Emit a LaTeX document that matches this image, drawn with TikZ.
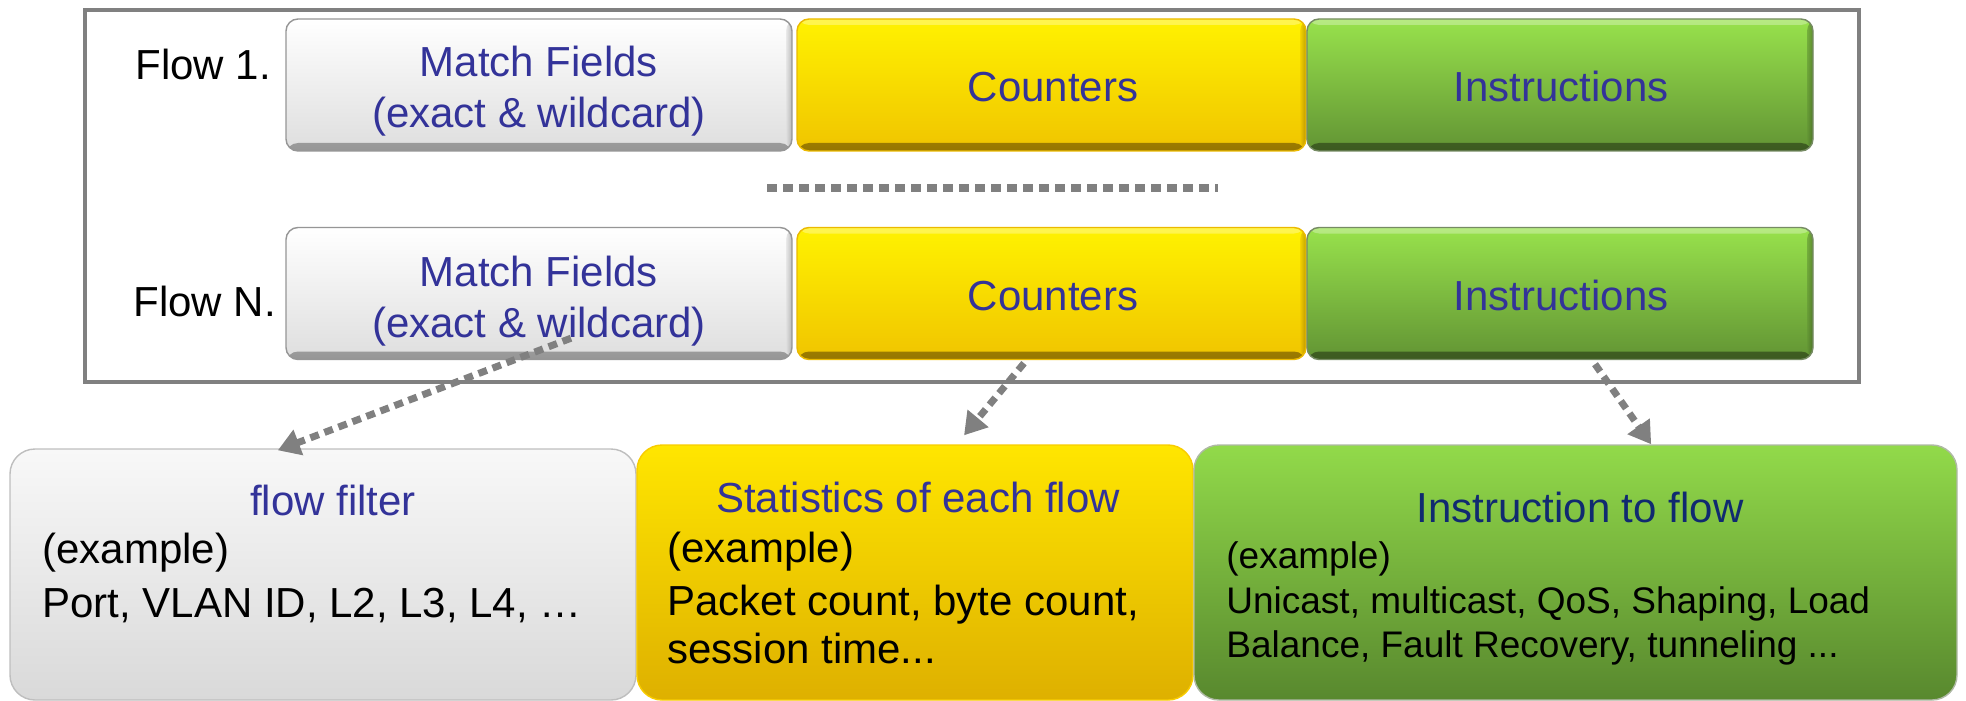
\documentclass[tikz,border=0pt]{standalone}
\usepackage{fontspec}
\setmainfont{Liberation Sans}
\usetikzlibrary{arrows.meta,calc}

% text colours
\definecolor{txtblue}{RGB}{51,51,153}
\definecolor{txtnavy}{RGB}{16,42,112}
\definecolor{framegray}{RGB}{128,128,128}
% flow-table cells
\definecolor{wTop}{RGB}{255,255,255}
\definecolor{wBot}{RGB}{222,222,222}
\definecolor{wEdge}{RGB}{150,150,150}
\definecolor{yTop}{RGB}{255,242,0}
\definecolor{yBot}{RGB}{240,196,0}
\definecolor{yEdge}{RGB}{150,118,0}
\definecolor{yRim}{RGB}{235,185,0}
\definecolor{gTop}{RGB}{152,226,76}
\definecolor{gBot}{RGB}{98,148,52}
\definecolor{gEdge}{RGB}{60,90,32}
% description boxes
\definecolor{fTop}{RGB}{248,248,248}
\definecolor{fBot}{RGB}{217,217,217}
\definecolor{fLine}{RGB}{190,190,190}
\definecolor{sTop}{RGB}{255,230,0}
\definecolor{sBot}{RGB}{222,176,0}
\definecolor{sLine}{RGB}{248,204,0}
\definecolor{iTop}{RGB}{146,218,74}
\definecolor{iBot}{RGB}{88,136,46}
\definecolor{iLine}{RGB}{175,185,165}

\tikzset{
  % one cell of the flow table: top colour, bottom colour, edge colour, rim colour
  cell/.style n args={4}{
    rounded corners=6pt, inner sep=0pt, minimum height=66pt,
    top color=#1, bottom color=#2, draw=#4, line width=0.7pt,
    path picture={
      \shade[top color=#2, bottom color=#3]
        ([yshift=4pt]path picture bounding box.south west) rectangle
        (path picture bounding box.south east);
      \shade[left color=#2, right color=#3, opacity=.6]
        ([xshift=-3pt]path picture bounding box.north east) rectangle
        (path picture bounding box.south east);
      \fill[white, opacity=.3]
        (path picture bounding box.north west) rectangle
        ([yshift=-3pt]path picture bounding box.north east);
    }},
  % a description box below the table
  infobox/.style n args={3}{
    rounded corners=12.5pt, inner sep=0pt,
    top color=#1, bottom color=#2, draw=#3, line width=0.7pt},
  txt/.style={inner sep=0pt, font=\fontsize{21pt}{25.5pt}\selectfont},
  small/.style={inner sep=0pt, font=\fontsize{18.5pt}{22pt}\selectfont},
  dotline/.style={draw=framegray, line width=4pt, dash pattern=on 5pt off 3pt},
  pointer/.style={draw=framegray, line width=3.5pt, dash pattern=on 4.5pt off 3pt,
    -{Triangle[length=11pt,width=13pt,fill=framegray]}}
}

\begin{document}
\begin{tikzpicture}[x=0.5pt, y=-0.5pt]
\useasboundingbox (0,0) rectangle (1966,701);

% flow table frame
\node[draw=framegray, line width=2.4pt, fill=white, inner sep=0pt,
      minimum width=887pt, minimum height=186pt] (tbl) at (972,196) {};

% row labels
\node[txt, anchor=base west] (lab1) at (135,80) {Flow 1.};
\node[txt, anchor=base west] (labN) at (133,316) {Flow N.};

% first entry
\node[cell={wTop}{wBot}{wEdge}{wEdge}, minimum width=253pt] (mf1) at (539,85) {};
\node[cell={yTop}{yBot}{yEdge}{yRim}, minimum width=254.5pt] (ct1) at (1051.5,85) {};
\node[cell={gTop}{gBot}{gEdge}{gEdge!70}, minimum width=253pt] (in1) at (1560,85) {};
\node[txt, text=txtblue, anchor=base] (mf1a) at (539,77) {Match Fields};
\node[txt, text=txtblue, anchor=base] (mf1b) at (539,128) {(exact \& wildcard)};
\node[txt, text=txtblue, anchor=base] (ct1t) at (1053,102) {Counters};
\node[txt, text=txtblue, anchor=base] (in1t) at (1561,102) {Instructions};

% ellipsis between the entries
\coordinate (dA) at (767,188);
\coordinate (dB) at (1218,188);
\draw[dotline] (dA) -- (dB);

% last entry
\node[cell={wTop}{wBot}{wEdge}{wEdge}, minimum width=253pt] (mfN) at (539,293.5) {};
\node[cell={yTop}{yBot}{yEdge}{yRim}, minimum width=254.5pt] (ctN) at (1051.5,293.5) {};
\node[cell={gTop}{gBot}{gEdge}{gEdge!70}, minimum width=253pt] (inN) at (1560,293.5) {};
\node[txt, text=txtblue, anchor=base] (mfNa) at (539,286) {Match Fields};
\node[txt, text=txtblue, anchor=base] (mfNb) at (539,337) {(exact \& wildcard)};
\node[txt, text=txtblue, anchor=base] (ctNt) at (1053,310) {Counters};
\node[txt, text=txtblue, anchor=base] (inNt) at (1561,310) {Instructions};

% description boxes
\node[infobox={fTop}{fBot}{fLine}, minimum width=313pt, minimum height=125.5pt]
  (ff) at (323,574.5) {};
\node[infobox={sTop}{sBot}{sLine}, minimum width=278pt, minimum height=127.5pt]
  (st) at (915,572.5) {};
\node[infobox={iTop}{iBot}{iLine}, minimum width=381.5pt, minimum height=127.5pt]
  (it) at (1575.5,572.5) {};

% flow filter
\node[txt, text=txtblue, anchor=base] (ffT) at (333,515) {flow filter};
\node[txt, anchor=base west] (ffA) at (42,563) {(example)};
\node[txt, anchor=base west] (ffB) at (42,617) {Port, VLAN ID, L2, L3, L4, …};

% statistics
\node[txt, text=txtblue, anchor=base] (stT) at (918,512) {Statistics of each flow};
\node[txt, anchor=base west] (stA) at (667,562) {(example)};
\node[txt, anchor=base west] (stB) at (667,615) {Packet count, byte count,};
\node[txt, anchor=base west] (stC) at (667,663) {session time...};

% instructions
\node[txt, text=txtnavy, anchor=base] (itT) at (1580,522) {Instruction to flow};
\node[small, anchor=base west] (itA) at (1226,568) {(example)};
\node[small, anchor=base west] (itB) at (1226,613) {Unicast, multicast, QoS, Shaping, Load};
\node[small, anchor=base west] (itC) at (1226,657) {Balance, Fault Recovery, tunneling ...};

% pointers from the last entry to the descriptions
\coordinate (p1s) at ($(mfN.south)+(32,-22)$);
\coordinate (p1e) at ($(ff.north west)!0.428!(ff.north east)+(0,2)$);
\coordinate (p2s) at ($(ctN.south)+(-27.5,3)$);
\coordinate (p2e) at ($(st.north west)!0.588!(st.north east)+(0,-9)$);
\coordinate (p3s) at ($(inN.south)+(35,4)$);
\coordinate (p3e) at ($(it.north west)!0.599!(it.north east)$);
\draw[pointer] (p1s) -- (p1e);
\draw[pointer] (p2s) -- (p2e);
\draw[pointer] (p3s) -- (p3e);
\end{tikzpicture}
\end{document}
